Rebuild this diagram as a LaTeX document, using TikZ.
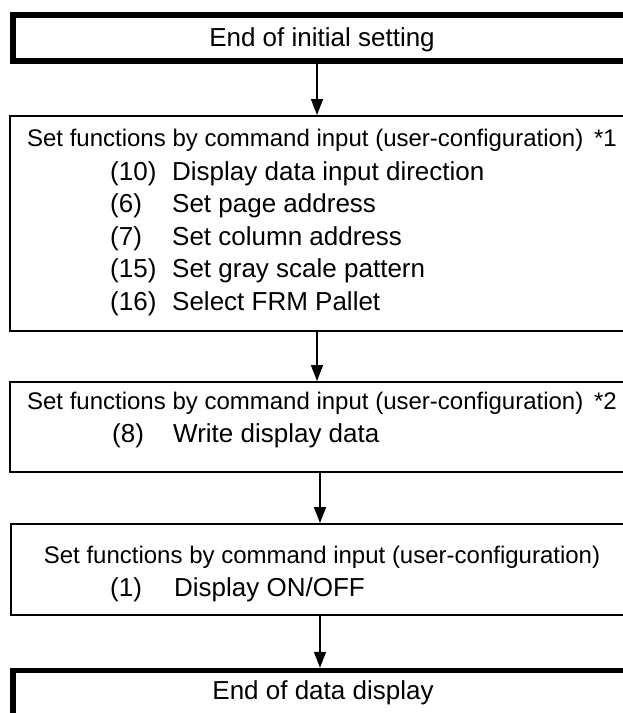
\documentclass[tikz,border=0pt]{standalone}
\usepackage{fontspec}
\setmainfont{Liberation Sans}
\usetikzlibrary{arrows.meta}
\begin{document}
\begin{tikzpicture}[x=1pt,y=-1pt,
  thickbox/.style={draw=black,line width=5.5pt,inner sep=0pt,rectangle},
  thinbox/.style={draw=black,line width=2pt,inner sep=0pt,rectangle},
  head/.style={inner sep=0pt,font=\fontsize{24}{28}\selectfont,text=black},
  item/.style={inner sep=0pt,font=\fontsize{26}{30}\selectfont,text=black},
  flow/.style={draw=black,line width=1.6pt,-{Triangle[length=16pt,width=12pt]}}]
\useasboundingbox (0,0) rectangle (623,713);
\clip (0,0) rectangle (623,713);

% boxes (they run past the right and bottom edges of the sheet)
\node[thickbox,minimum width=627pt,minimum height=46pt]  (b1) at (326.5,38)    {};
\node[thinbox, minimum width=630pt,minimum height=215pt] (b2) at (325,223.5)   {};
\node[thinbox, minimum width=630pt,minimum height=90pt]  (b3) at (325,427)     {};
\node[thinbox, minimum width=629pt,minimum height=91pt]  (b4) at (325.5,569.5) {};
\node[thickbox,minimum width=627pt,minimum height=70pt]  (b5) at (326.5,705.5) {};

% texts
\node[item,anchor=base] (t1) at (322,46.5) {End of initial setting};

\node[head,anchor=base] (t2) at (322,146) {Set functions by command input (user-configuration)\hspace{0.45em}*1};
\node[item,anchor=base west] (n21) at (110,180) {(10)};
\node[item,anchor=base west] (s21) at (172,180) {Display data input direction};
\node[item,anchor=base west] (n22) at (110,212.5) {(6)};
\node[item,anchor=base west] (s22) at (172,212.5) {Set page address};
\node[item,anchor=base west] (n23) at (110,245) {(7)};
\node[item,anchor=base west] (s23) at (172,245) {Set column address};
\node[item,anchor=base west] (n24) at (110,277.5) {(15)};
\node[item,anchor=base west] (s24) at (172,277.5) {Set gray scale pattern};
\node[item,anchor=base west] (n25) at (110,310) {(16)};
\node[item,anchor=base west] (s25) at (172,310) {Select FRM Pallet};

\node[head,anchor=base] (t3) at (322,409) {Set functions by command input (user-configuration)\hspace{0.45em}*2};
\node[item,anchor=base west] (n31) at (112,442) {(8)};
\node[item,anchor=base west] (s31) at (173,442) {Write display data};

\node[head,anchor=base] (t4) at (322,563) {Set functions by command input (user-configuration)};
\node[item,anchor=base west] (n41) at (110,596) {(1)};
\node[item,anchor=base west] (s41) at (174,596) {Display ON/OFF};

\node[item,anchor=base] (t5) at (323,699) {End of data display};

% connectors
\coordinate (c1) at (317,0);
\coordinate (c2) at (320,0);
\draw[flow] (b1.south -| c1) -- (b2.north -| c1);
\draw[flow] (b2.south -| c1) -- (b3.north -| c1);
\draw[flow] (b3.south -| c2) -- (b4.north -| c2);
\draw[flow] (b4.south -| c2) -- (b5.north -| c2);
\end{tikzpicture}
\end{document}
